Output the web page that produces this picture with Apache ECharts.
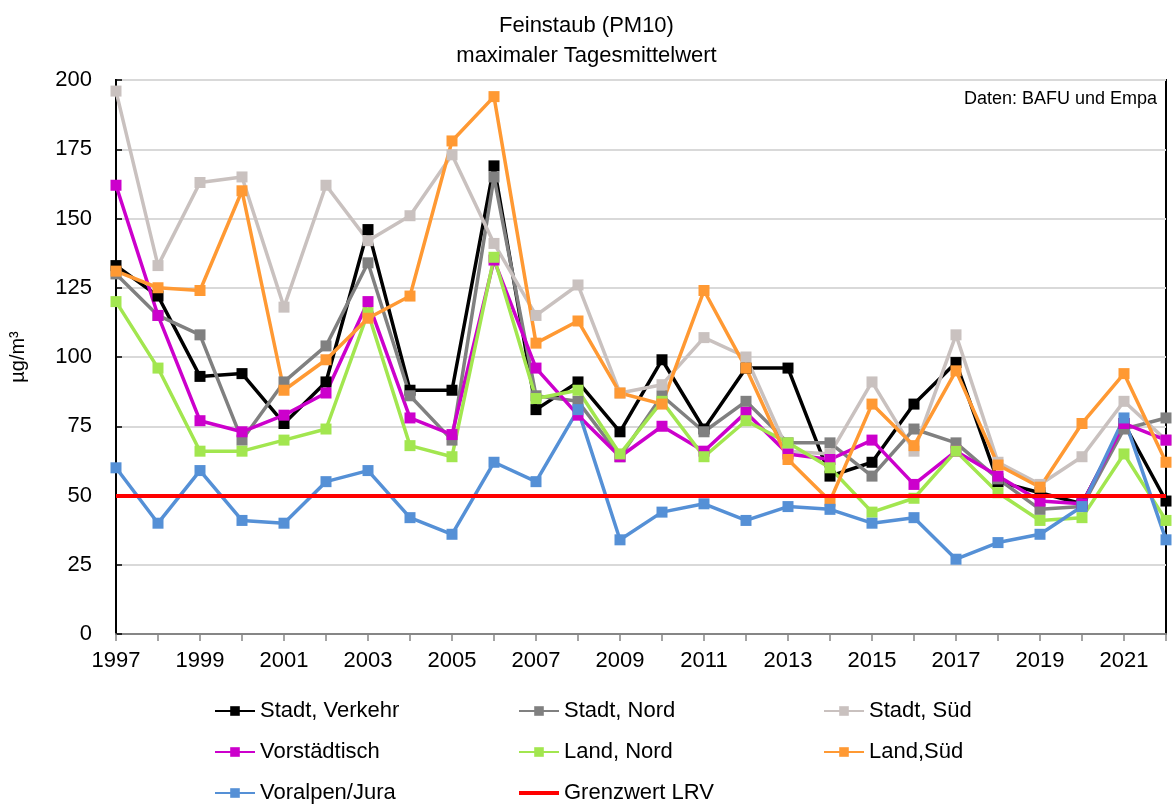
<!DOCTYPE html>
<html>
<head>
<meta charset="utf-8">
<script src="https://cdn.jsdelivr.net/npm/echarts@6/dist/echarts.min.js"></script>
<style>
  html, body { margin: 0; padding: 0; background: #fff; }
  #chart { width: 1173px; height: 809px; }
</style>
</head>
<body>
<div id="chart"></div>
<script>
const years = ['1997', '1998', '1999', '2000', '2001', '2002', '2003', '2004', '2005', '2006', '2007', '2008', '2009',
  '2010', '2011', '2012', '2013', '2014', '2015', '2016', '2017', '2018', '2019', '2020', '2021', '2022'];

const stadtVerkehr = [133, 122, 93, 94, 76, 91, 146, 88, 88, 169, 81, 91, 73, 99, 74, 96, 96, 57, 62, 83, 98, 55, 51, 47, 76, 48];
const stadtNord = [130, 115, 108, 70, 91, 104, 134, 86, 70, 165, 86, 84, 64, 86, 73, 84, 69, 69, 57, 74, 69, 56, 45, 46, 74, 78];
const stadtSued = [196, 133, 163, 165, 118, 162, 142, 151, 173, 141, 115, 126, 87, 90, 107, 100, 66, 65, 91, 66, 108, 62, 54, 64, 84, 70];
const vorstaedtisch = [162, 115, 77, 73, 79, 87, 120, 78, 72, 135, 96, 79, 64, 75, 66, 80, 65, 63, 70, 54, 66, 57, 48, 47, 76, 70];
const landNord = [120, 96, 66, 66, 70, 74, 116, 68, 64, 136, 85, 88, 65, 84, 64, 77, 69, 60, 44, 49, 66, 51, 41, 42, 65, 41];
const landSued = [131, 125, 124, 160, 88, 99, 114, 122, 178, 194, 105, 113, 87, 83, 124, 96, 63, 48, 83, 68, 95, 61, 53, 76, 94, 62];
const voralpen = [60, 40, 59, 41, 40, 55, 59, 42, 36, 62, 55, 81, 34, 44, 47, 41, 46, 45, 40, 42, 27, 33, 36, 46, 78, 34];
const grenzwert = 50;

const font = "'Liberation Sans', Arial, sans-serif";

function lineSeries(name, data, color) {
  return {
    name: name,
    type: 'line',
    data: data,
    symbol: 'rect',
    symbolSize: 11,
    lineStyle: { color: color, width: 3.5 },
    itemStyle: { color: color },
    emphasis: { disabled: true },
    animation: false
  };
}

// one legend per column so the three columns line up like the original
function legendCol(left, names) {
  return {
    orient: 'vertical',
    left: left,
    top: 699,
    height: 110,
    padding: 0,
    itemWidth: 40,
    itemHeight: 12,
    itemGap: 17,
    data: names,
    textStyle: { color: '#000', fontSize: 22, fontFamily: font, lineHeight: 24 }
  };
}

const chart = echarts.init(document.getElementById('chart'));
chart.setOption({
  backgroundColor: '#fff',
  animation: false,
  title: {
    text: 'Feinstaub (PM10)\nmaximaler Tagesmittelwert',
    left: 'center',
    top: 6,
    textStyle: { color: '#000', fontSize: 22, fontWeight: 'normal', fontFamily: font, lineHeight: 30 }
  },
  graphic: [{
    type: 'text',
    right: 16,
    top: 90,
    style: { text: 'Daten: BAFU und Empa', fill: '#000', font: "18px " + font }
  }],
  legend: [
    legendCol(214, ['Stadt, Verkehr', 'Vorstädtisch', 'Voralpen/Jura']),
    legendCol(518, ['Stadt, Nord', 'Land, Nord', { name: 'Grenzwert LRV', icon: 'path://M0,0H40V4H0Z' }]),
    legendCol(823, ['Stadt, Süd', 'Land,Süd'])
  ],
  grid: {
    left: 111, right: 7, top: 80, bottom: 175,
    show: true, borderColor: '#000', borderWidth: 2
  },
  xAxis: {
    type: 'category',
    data: years,
    boundaryGap: false,
    axisLine: { lineStyle: { color: '#868686', width: 2 } },
    axisTick: { show: true, interval: 0, length: 7, lineStyle: { color: '#868686', width: 1.5 } },
    axisLabel: { interval: 1, color: '#000', fontSize: 22, fontFamily: font, margin: 16 },
    splitLine: { show: false }
  },
  yAxis: {
    type: 'value',
    min: 0,
    max: 200,
    interval: 25,
    name: 'µg/m³',
    nameLocation: 'middle',
    nameRotate: 90,
    nameGap: 88,
    nameTextStyle: { color: '#000', fontSize: 20, fontFamily: font },
    axisLine: { show: true, lineStyle: { color: '#000', width: 2 } },
    axisTick: { show: true, inside: true, length: 6, lineStyle: { color: '#000', width: 1.5 } },
    axisLabel: { color: '#000', fontSize: 22, fontFamily: font, margin: 24 },
    splitLine: { lineStyle: { color: '#d9d9d9', width: 2 } }
  },
  series: [
    lineSeries('Stadt, Verkehr', stadtVerkehr, '#000000'),
    lineSeries('Stadt, Nord', stadtNord, '#808080'),
    lineSeries('Stadt, Süd', stadtSued, '#c9c1bf'),
    lineSeries('Vorstädtisch', vorstaedtisch, '#cc00cc'),
    lineSeries('Land, Nord', landNord, '#a2e64f'),
    lineSeries('Land,Süd', landSued, '#ff9933'),
    lineSeries('Voralpen/Jura', voralpen, '#5590d6'),
    {
      name: 'Grenzwert LRV',
      type: 'line',
      data: [],
      symbol: 'none',
      lineStyle: { color: '#ff0000', width: 4 },
      itemStyle: { color: '#ff0000' },
      markLine: {
        silent: true,
        symbol: 'none',
        label: { show: false },
        lineStyle: { color: '#ff0000', width: 4, type: 'solid' },
        data: [{ yAxis: grenzwert }]
      }
    }
  ]
});
</script>
</body>
</html>
